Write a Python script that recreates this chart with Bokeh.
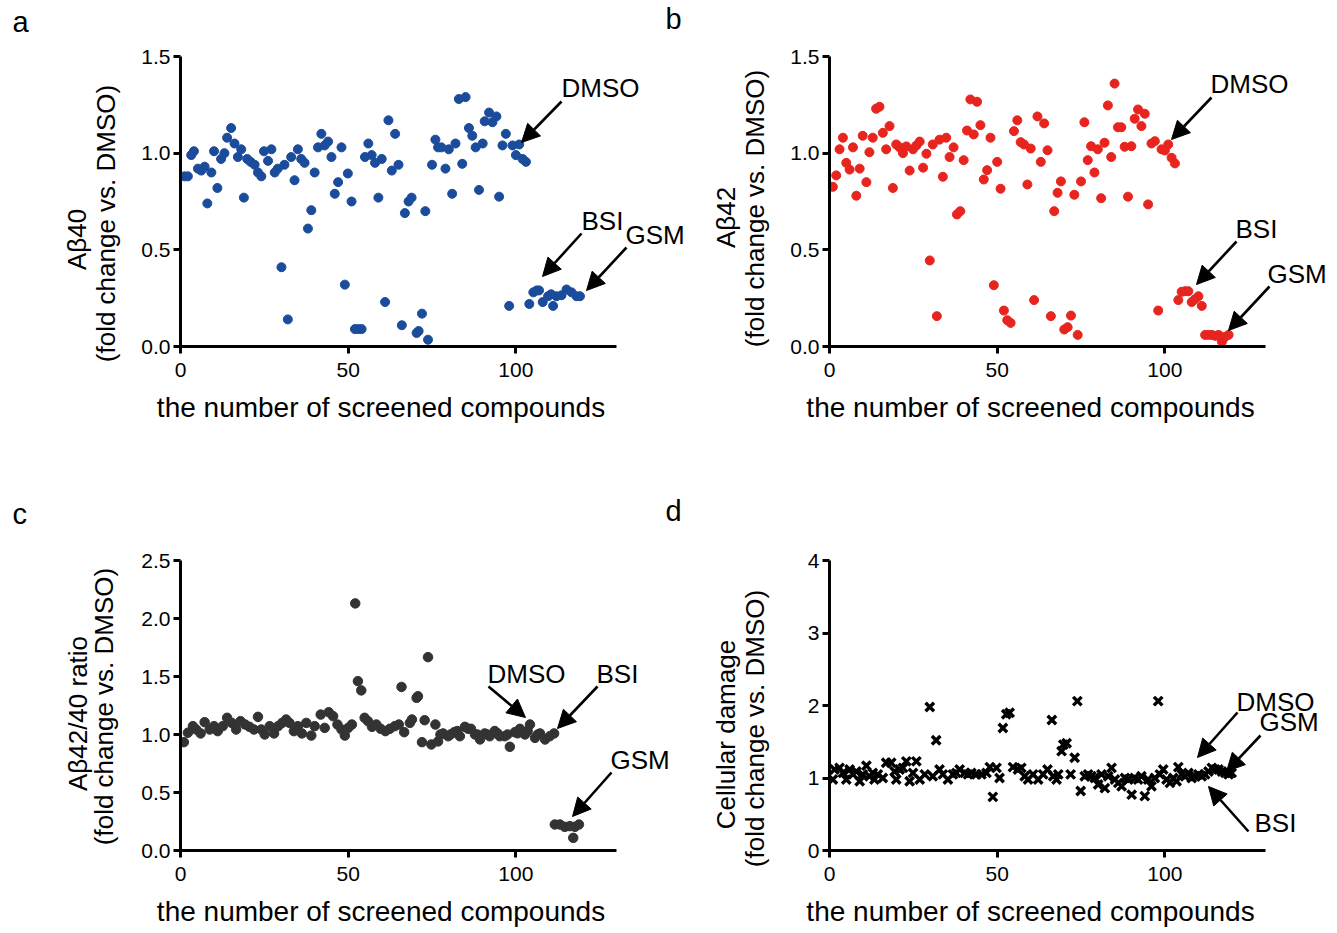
import numpy as np
from bokeh.plotting import figure
from bokeh.layouts import column, row
from bokeh.models import Range1d, FixedTicker, PrintfTickFormatter, Label, Arrow, NormalHead
from bokeh.embed import file_html
from bokeh.resources import INLINE

FONT = "Liberation Sans"

# ---------------- data ----------------
ab40_x = [1.2, 2.2, 3.2, 4.0, 5.2, 6.2, 7.2, 8.0, 9.2, 10, 11, 12.1, 13.1, 13.9, 15.1, 16.1, 17.1, 18.1, 18.9,
          19.9, 20.9, 22.1, 23.1, 24.1, 24.9, 26.1, 27.1, 28.1, 29.0, 30.1, 31.0, 32.0, 33.0, 34.0, 35.0, 36.0,
          37.0, 38.0, 39.0, 40.0, 41.0, 42.0, 43.0, 44.0, 45.0, 46.0, 47.0, 48.0, 49.0, 49.9, 51.0, 52, 53, 54,
          55, 56, 57, 58, 59, 60, 61, 62, 63, 64, 65, 66, 66.9, 68.0, 68.9, 70.4, 71.0, 72, 73, 73.8, 75, 76,
          76.8, 77.8, 79, 80, 81, 82, 83, 84, 85, 86, 87, 88, 89, 90.1, 90.7, 92, 93, 94.2, 95, 96, 97, 98, 99,
          100, 101, 102, 103, 104, 105.2, 106.2, 106.9, 108, 109.6, 110.5, 111.1, 112.1, 113.6, 115.1, 116.6,
          118.1, 119.1]
ab40_y = [0.88, 0.88, 0.99, 1.01, 0.92, 0.91, 0.93, 0.74, 0.90, 1.01, 0.82, 0.97, 1.00, 1.08, 1.13, 1.05, 0.98,
          1.02, 0.77, 0.97, 0.955, 0.94, 0.90, 0.88, 1.01, 0.96, 1.02, 0.90, 0.92, 0.41, 0.94, 0.14, 0.98, 0.86,
          1.02, 0.97, 0.95, 0.61, 0.705, 0.90, 1.03, 1.10, 1.04, 1.06, 0.98, 0.79, 0.85, 1.03, 0.32, 0.895, 0.75,
          0.09, 0.09, 0.09, 0.98, 1.05, 0.99, 0.95, 0.77, 0.97, 0.23, 1.17, 0.91, 1.10, 0.94, 0.11, 0.69, 0.75,
          0.77, 0.07, 0.08, 0.17, 0.70, 0.035, 0.94, 1.07, 1.03, 1.03, 0.92, 1.02, 0.79, 1.05, 1.28, 0.945, 1.29,
          1.13, 1.09, 1.03, 0.81, 1.05, 1.165, 1.21, 1.16, 1.19, 0.775, 1.04, 1.10, 0.21, 1.04, 0.99, 1.045, 0.97,
          0.955, 0.22, 0.28, 0.29, 0.29, 0.23, 0.26, 0.27, 0.21, 0.26, 0.265, 0.295, 0.28, 0.26, 0.26]

ab42_x = [1.0, 2.0, 3.0, 4.0, 5.0, 6.0, 7.0, 8.0, 9.0, 9.9, 11, 11.9, 12.9, 13.9, 14.9, 15.9, 16.9, 17.9, 18.9,
          19.9, 20.9, 21.9, 22.9, 23.9, 24.9, 25.9, 26.9, 27.9, 28.9, 29.9, 30.8, 32, 32.8, 33.8, 34.8, 35.8, 37,
          38, 39, 40, 41, 42, 43, 44, 45, 46, 47, 48, 49, 50, 51, 52, 53, 54, 55, 56, 57, 58, 59, 60, 61, 62, 63,
          64, 65, 66, 67, 68, 69, 70, 71, 72, 73, 74, 75, 76, 77, 78, 79, 80, 81, 82, 83, 84, 85, 86, 87, 88, 89,
          90, 91, 92, 93, 94, 95, 96, 97, 98, 99, 100, 101, 102, 103, 104, 105, 106, 107, 108, 109, 110, 111,
          112, 113, 114, 115, 116, 117, 118, 119]
ab42_y = [0.826, 0.885, 1.02, 1.08, 0.95, 0.915, 1.03, 0.78, 0.92, 1.09, 0.85, 1.005, 1.08, 1.23, 1.24, 1.105,
          1.02, 1.14, 0.82, 1.045, 1.03, 1.00, 1.035, 0.91, 1.02, 1.04, 1.06, 0.925, 0.997, 0.445, 1.045, 0.157,
          1.07, 0.878, 1.08, 0.98, 1.03, 0.683, 0.70, 0.964, 1.117, 1.278, 1.097, 1.266, 1.145, 0.864, 0.912,
          1.08, 0.317, 0.955, 0.816, 0.186, 0.136, 0.122, 1.114, 1.17, 1.057, 1.045, 0.838, 1.024, 0.24, 1.19,
          0.955, 1.154, 1.015, 0.157, 0.70, 0.795, 0.854, 0.088, 0.10, 0.16, 0.785, 0.06, 0.854, 1.16, 0.964,
          1.036, 0.90, 1.02, 0.767, 1.054, 1.247, 0.98, 1.36, 1.134, 1.134, 1.033, 0.775, 1.036, 1.178, 1.226,
          1.14, 1.204, 0.735, 1.05, 1.062, 0.186, 1.02, 1.014, 1.045, 0.976, 0.947, 0.24, 0.283, 0.286, 0.286,
          0.23, 0.245, 0.26, 0.21, 0.06, 0.06, 0.06, 0.055, 0.06, 0.025, 0.05, 0.06]

ratio_x = [1.0, 2.2, 3.7, 4.7, 6.0, 7.2, 8.7, 10, 11.1, 12.6, 13.9, 15.3, 16.6, 17.9, 19.3, 20.6, 21.9, 23.1,
           24.1, 25.1, 26.6, 27.9, 29.1, 30.3, 31.5, 32.5, 33.8, 35.0, 36.2, 37.5, 39.0, 40, 41.8, 43, 44.2, 45.5,
           46.8, 48, 49, 50, 51.1, 52.1, 52.9, 53.9, 54.9, 55.9, 57.1, 58.4, 59.7, 61.1, 62.4, 63.9, 65.1, 65.9,
           66.7, 68.4, 69.0, 70.4, 70.8, 72, 72.8, 73.8, 74.8, 76, 76.8, 77.5, 78.3, 79.8, 80.5, 81.6, 82.5, 83.3,
           84.8, 85.7, 86.6, 87.8, 88.5, 89.3, 90.7, 91.5, 92.2, 93.7, 94.5, 95.2, 96.7, 97.5, 98.2, 99.7, 100.5,
           101.2, 102.7, 103.5, 104.2, 105.7, 106.5, 107.2, 108.7, 110.1, 111.4, 111.6, 113.1, 114.6, 116.1,
           117.6, 118.8, 117.1]
ratio_y = [0.934, 1.015, 1.072, 1.043, 1.009, 1.106, 1.043, 1.072, 1.029, 1.072, 1.144, 1.10, 1.043, 1.115,
           1.086, 1.066, 1.043, 1.152, 1.043, 1.0, 1.072, 1.009, 1.072, 1.10, 1.129, 1.10, 1.029, 1.072, 1.009,
           1.10, 0.991, 1.072, 1.172, 1.057, 1.192, 1.158, 1.086, 1.043, 0.991, 1.057, 1.086, 2.13, 1.46, 1.38,
           1.144, 1.115, 1.066, 1.086, 1.049, 1.029, 1.049, 1.072, 1.086, 1.41, 1.02, 1.10, 1.129, 1.316, 1.33,
           0.934, 1.123, 1.667, 0.914, 1.086, 0.94, 1.0, 1.009, 0.985, 1.0, 1.02, 1.03, 0.985, 1.066, 1.05,
           1.049, 1.0, 1.0, 0.957, 1.009, 1.0, 0.985, 1.03, 1.01, 0.985, 0.985, 1.0, 0.894, 1.02, 1.01, 1.049,
           1.0, 1.03, 1.086, 0.971, 1.0, 1.009, 0.957, 0.985, 1.009, 0.224, 0.224, 0.204, 0.21, 0.204, 0.224,
           0.109]

dmg_x = [1.0, 1.5, 3.0, 4.0, 5.0, 6.0, 7.0, 8.0, 9.0, 9.9, 11, 11.9, 12.9, 13.4, 14.4, 15.9, 16.9, 18.4, 19.4,
         19.9, 20.9, 21.9, 22.9, 23.9, 24.9, 25.9, 26.9, 28.4, 29.9, 30.8, 31.8, 32.8, 33.8, 35.3, 36.8, 37.8,
         38.8, 40.3, 41.3, 42.3, 43.8, 45.3, 46.8, 47.8, 48.7, 49.8, 50.7, 51.7, 52.7, 53.7, 54.7, 56.2, 57.2,
         58.2, 59.2, 60.7, 62.2, 63.7, 65, 66.3, 66.7, 67.7, 68.2, 69.2, 69.7, 70.7, 71.9, 73.1, 73.9, 74.9,
         76.1, 77.1, 78.1, 79.1, 80.1, 81.1, 82.1, 83.1, 84.1, 85.1, 86.1, 87.1, 88.1, 89.1, 90.1, 91, 92, 93,
         94, 95, 96, 97, 98, 98.5, 99.5, 100.5, 101.5, 102.5, 103.5, 104, 105, 106, 107, 108, 109, 110, 111,
         112, 113, 114, 115, 116, 117, 118, 119, 119.9]
dmg_y = [0.98, 1.117, 1.14, 1.07, 0.98, 1.117, 1.05, 1.09, 0.956, 1.05, 1.17, 1.025, 1.07, 0.98, 1.05, 1.0,
         1.21, 1.21, 1.09, 0.98, 1.117, 1.14, 1.23, 0.956, 1.07, 1.23, 0.98, 1.05, 1.98, 1.025, 1.52, 1.117,
         1.05, 0.98, 1.05, 1.07, 1.117, 1.07, 1.05, 1.07, 1.05, 1.05, 1.07, 1.15, 0.74, 1.14, 1.0, 1.69, 1.88,
         1.9, 1.15, 1.117, 1.14, 1.025, 0.98, 1.05, 0.98, 1.05, 1.117, 1.80, 1.025, 0.98, 1.05, 1.37, 1.46,
         1.48, 1.05, 1.28, 2.06, 0.82, 1.025, 1.05, 1.025, 1.0, 0.91, 1.05, 0.86, 1.025, 1.14, 0.98, 0.933,
         0.887, 1.0, 0.98, 0.77, 1.0, 0.98, 1.025, 0.75, 0.98, 0.887, 1.0, 2.06, 1.05, 1.117, 0.98, 0.933, 1.0,
         0.956, 1.15, 1.05, 1.025, 1.07, 1.0, 1.025, 1.05, 1.025, 1.05, 1.09, 1.14, 1.117, 1.117, 1.09, 1.07,
         1.05, 1.07]

x_ticks = [0, 50, 100]
y_ticks_ab = [0.0, 0.5, 1.0, 1.5]
y_ticks_ratio = [0.0, 0.5, 1.0, 1.5, 2.0, 2.5]
y_ticks_dmg = [0, 1, 2, 3, 4]

x_title = "the number of screened compounds"
y_sub = "(fold change vs. DMSO)"

BLUE = "#1b4c9c"
RED = "#e8241e"
GRAY = "#333333"
BLACK = "#000000"

# ---------------- layout geometry (page pixels; canvas origin at page (1, 1)) ----------------
PXX = 436.0 / 130.0           # px per x unit (axis 0..130 spans 436 px)
GEOM = {
    "a": dict(left=181, bottom=347, pxy=290.0 / 1.5, axis_top=1.5),
    "b": dict(left=830, bottom=347, pxy=290.0 / 1.5, axis_top=1.5),
    "c": dict(left=181, bottom=851, pxy=290.0 / 2.5, axis_top=2.5),
    "d": dict(left=830, bottom=851, pxy=290.0 / 4.0, axis_top=4.0),
}


def no_align(p):
    try:
        p.frame_align = False
    except Exception:
        pass


def to_data(k, X, Y):
    g = GEOM[k]
    return (X - g["left"]) / PXX, (g["bottom"] - Y) / g["pxy"]


def make_panel(k, bl, bt, bb, fw, fh, yticks, yfmt):
    g = GEOM[k]
    p = figure(width=bl + fw, height=bt + fh + bb,
               x_range=Range1d(0, fw / PXX), y_range=Range1d(0, fh / g["pxy"]),
               output_backend="svg", toolbar_location=None,
               min_border_left=bl, min_border_right=0, min_border_top=bt, min_border_bottom=bb)
    no_align(p)
    p.outline_line_color = None
    p.grid.visible = False
    for ax in (p.xaxis[0], p.yaxis[0]):
        ax.axis_line_width = 3
        ax.axis_line_color = "black"
        ax.major_tick_line_width = 3
        ax.major_tick_line_color = "black"
        ax.major_tick_out = 7
        ax.major_tick_in = 0
        ax.minor_tick_out = 0
        ax.minor_tick_in = 0
        ax.major_label_text_font = FONT
        ax.major_label_text_font_size = "21px"
        ax.major_label_text_color = "black"
    p.xaxis.ticker = FixedTicker(ticks=x_ticks)
    p.xaxis.formatter = PrintfTickFormatter(format="%d")
    p.xaxis.major_label_standoff = 9
    p.xaxis.bounds = (0, 130)
    p.yaxis.ticker = FixedTicker(ticks=yticks)
    p.yaxis.formatter = PrintfTickFormatter(format=yfmt)
    p.yaxis.major_label_standoff = 3
    p.yaxis.bounds = (0, g["axis_top"])
    return p


def text_fig(x0, x1, y0, y1):
    """A bare canvas whose data coordinates are page pixels (for titles outside the plot frames)."""
    p = figure(width=x1 - x0, height=y1 - y0, x_range=Range1d(x0, x1), y_range=Range1d(y1, y0),
               output_backend="svg", toolbar_location=None, min_border=0,
               x_axis_location=None, y_axis_location=None)
    no_align(p)
    p.outline_line_color = None
    p.grid.visible = False
    return p


def page_label(p, X, Y, text, size="26px", align="center", angle=0.0):
    p.add_layout(Label(x=X, y=Y, text=text, text_font=FONT, text_font_size=size, text_color="black",
                       text_align=align, text_baseline="middle", angle=angle))


def add_text(p, k, X, Y, text, size="26px"):
    x, y = to_data(k, X, Y)
    p.add_layout(Label(x=x, y=y, text=text, text_font=FONT, text_font_size=size, text_color="black",
                       text_align="left", text_baseline="middle"))


def add_arrow(p, k, X0, Y0, X1, Y1):
    x0, y0 = to_data(k, X0, Y0)
    x1, y1 = to_data(k, X1, Y1)
    p.add_layout(Arrow(end=NormalHead(size=18, fill_color="black", line_color="black", line_width=1),
                       x_start=x0, y_start=y0, x_end=x1, y_end=y1, line_width=2.6, line_color="black"))


def y_titles(p, line1, c1, c2):
    page_label(p, c1[0], c1[1], line1, angle=np.pi / 2)
    page_label(p, c2[0], c2[1], y_sub, angle=np.pi / 2)


# ======== top band: page y 1..389 ========
la = text_fig(1, 130, 1, 389)
page_label(la, 13, 22, "a", size="29px", align="left")
y_titles(la, "Aβ40", (77, 240), (106, 224))

pa = make_panel("a", 51, 2, 42, 510, 344, y_ticks_ab, "%.1f")
pa.scatter(ab40_x, ab40_y, marker="circle", size=9, fill_color=BLUE, line_color=BLUE)
add_text(pa, "a", 666, 19, "b", size="29px")
add_text(pa, "a", 562, 88, "DMSO")
add_arrow(pa, "a", 562, 102, 522, 143)
add_text(pa, "a", 582, 221, "BSI")
add_arrow(pa, "a", 582, 234, 543, 277)
add_text(pa, "a", 626, 235, "GSM")
add_arrow(pa, "a", 627, 248, 587, 291)

lb = text_fig(691, 785, 1, 389)
y_titles(lb, "Aβ42", (726, 218), (755, 209))

pb = make_panel("b", 45, 2, 42, 504, 344, y_ticks_ab, "%.1f")
pb.scatter(ab42_x, ab42_y, marker="circle", size=9, fill_color=RED, line_color=RED)
add_text(pb, "b", 1211, 84, "DMSO")
add_arrow(pb, "b", 1212, 98, 1172, 140)
add_text(pb, "b", 1236, 229, "BSI")
add_arrow(pb, "b", 1237, 242, 1197, 285)
add_text(pb, "b", 1268, 274, "GSM")
add_arrow(pb, "b", 1270, 287, 1229, 331)

# x titles of the top row: page y 389..430
st = text_fig(1, 1334, 389, 430)
page_label(st, 381.5, 408, x_title, size="28px")
page_label(st, 1031, 408, x_title, size="28px")

# ======== bottom band: page y 430..893 ========
lc = text_fig(1, 130, 430, 893)
page_label(lc, 13, 514, "c", size="29px", align="left")
y_titles(lc, "Aβ42/40 ratio", (78, 714), (104, 707))

pc = make_panel("c", 51, 2, 42, 510, 419, y_ticks_ratio, "%.1f")
pc.scatter(ratio_x, ratio_y, marker="circle", size=9.5, fill_color=GRAY, line_color=GRAY)
add_text(pc, "c", 666, 511, "d", size="29px")
add_text(pc, "c", 488, 674, "DMSO")
add_arrow(pc, "c", 489, 687, 526, 718)
add_text(pc, "c", 597, 674, "BSI")
add_arrow(pc, "c", 598, 687, 558, 729)
add_text(pc, "c", 611, 760, "GSM")
add_arrow(pc, "c", 612, 773, 573, 817)

ld = text_fig(691, 785, 430, 893)
y_titles(ld, "Cellular damage", (726, 735), (755, 729))

pd_ = make_panel("d", 45, 2, 42, 504, 419, y_ticks_dmg, "%d")
pd_.scatter(dmg_x, dmg_y, marker="x", size=12, line_color=BLACK, line_width=3.4)
add_text(pd_, "d", 1237, 702, "DMSO")
add_arrow(pd_, "d", 1238, 713, 1198, 758)
add_text(pd_, "d", 1260, 722, "GSM")
add_arrow(pd_, "d", 1261, 736, 1227, 772)
add_text(pd_, "d", 1255, 823, "BSI")
add_arrow(pd_, "d", 1249, 832, 1209, 787)

# x titles of the bottom row: page y 893..931
sb = text_fig(1, 1334, 893, 931)
page_label(sb, 381.5, 912, x_title, size="28px")
page_label(sb, 1031, 912, x_title, size="28px")

layout = column(row(la, pa, lb, pb), st, row(lc, pc, ld, pd_), sb)
open("out.html", "w").write(file_html(layout, INLINE))
